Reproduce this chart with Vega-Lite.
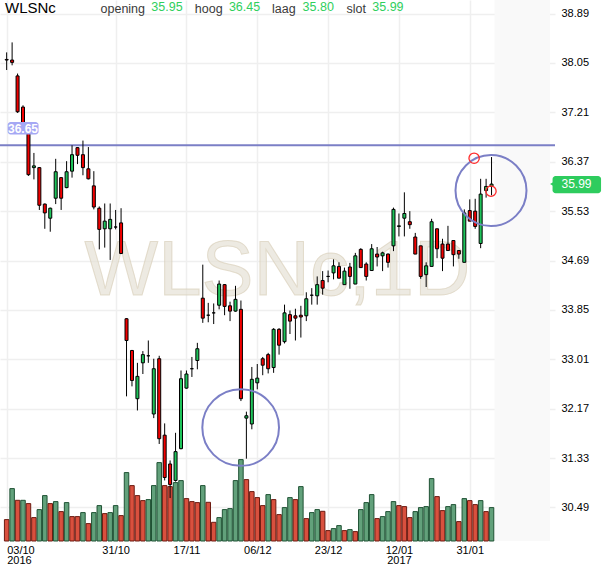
{
"$schema":"https://vega.github.io/schema/vega-lite/v6.json",
"width":555,"height":541,
"autosize":{"type":"none"},
"padding":{"left":0,"top":0,"right":55,"bottom":27},
"background":"#ffffff",
"config":{"font":"Liberation Sans","view":{"stroke":null},
"axis":{"labelFont":"Liberation Sans","labelFontSize":11,"labelColor":"#000000","gridColor":"#efefef","gridWidth":1.5,"domain":false,"ticks":false,"title":null}},
"datasets":{"one":[{}],"k":[
{"i":0,"o":38.11,"h":38.23,"l":37.93,"c":38.10,"v":21.4,"vd":"d"},
{"i":1,"o":38.10,"h":38.40,"l":38.01,"c":38.06,"v":52.4,"vd":"u"},
{"i":2,"o":37.83,"h":37.87,"l":37.20,"c":37.22,"v":40.7,"vd":"d"},
{"i":3,"o":37.30,"h":37.33,"l":36.93,"c":36.95,"v":40.7,"vd":"u"},
{"i":4,"o":36.95,"h":37.00,"l":36.13,"c":36.15,"v":37.4,"vd":"d"},
{"i":5,"o":36.27,"h":36.52,"l":36.07,"c":36.30,"v":23.4,"vd":"d"},
{"i":6,"o":36.27,"h":36.28,"l":35.55,"c":35.63,"v":31.4,"vd":"u"},
{"i":7,"o":35.65,"h":35.66,"l":35.23,"c":35.50,"v":45.4,"vd":"u"},
{"i":8,"o":35.41,"h":35.59,"l":35.18,"c":35.58,"v":37.4,"vd":"d"},
{"i":9,"o":35.75,"h":36.42,"l":35.65,"c":36.20,"v":39.4,"vd":"u"},
{"i":10,"o":36.10,"h":36.11,"l":35.55,"c":35.75,"v":29.4,"vd":"d"},
{"i":11,"o":35.93,"h":36.38,"l":35.92,"c":36.20,"v":38.4,"vd":"u"},
{"i":12,"o":36.21,"h":36.65,"l":36.10,"c":36.49,"v":24.4,"vd":"d"},
{"i":13,"o":36.61,"h":36.62,"l":36.33,"c":36.48,"v":24.4,"vd":"d"},
{"i":14,"o":36.49,"h":36.73,"l":36.14,"c":36.27,"v":28.4,"vd":"u"},
{"i":15,"o":36.25,"h":36.62,"l":36.07,"c":36.08,"v":17.4,"vd":"d"},
{"i":16,"o":35.96,"h":36.21,"l":35.56,"c":35.60,"v":28.4,"vd":"u"},
{"i":17,"o":35.58,"h":35.61,"l":34.88,"c":35.22,"v":35.4,"vd":"u"},
{"i":18,"o":35.23,"h":35.66,"l":34.91,"c":35.36,"v":27.4,"vd":"d"},
{"i":19,"o":35.23,"h":35.66,"l":34.70,"c":35.39,"v":28.4,"vd":"u"},
{"i":20,"o":35.26,"h":35.55,"l":35.22,"c":35.26,"v":35.4,"vd":"u"},
{"i":21,"o":35.33,"h":35.58,"l":34.80,"c":34.81,"v":25.4,"vd":"d"},
{"i":22,"o":33.70,"h":33.71,"l":32.38,"c":33.33,"v":68.4,"vd":"u"},
{"i":23,"o":33.16,"h":33.17,"l":32.55,"c":32.65,"v":55.4,"vd":"d"},
{"i":24,"o":32.34,"h":32.95,"l":32.14,"c":32.72,"v":45.4,"vd":"d"},
{"i":25,"o":32.95,"h":33.15,"l":32.76,"c":33.09,"v":40.4,"vd":"d"},
{"i":26,"o":33.07,"h":33.33,"l":32.95,"c":33.07,"v":41.4,"vd":"u"},
{"i":27,"o":32.08,"h":33.02,"l":32.01,"c":32.85,"v":55.4,"vd":"u"},
{"i":28,"o":33.02,"h":33.07,"l":31.57,"c":31.66,"v":78.4,"vd":"u"},
{"i":29,"o":31.72,"h":31.92,"l":30.95,"c":31.00,"v":55.4,"vd":"d"},
{"i":30,"o":31.23,"h":31.29,"l":30.65,"c":30.88,"v":54.4,"vd":"d"},
{"i":31,"o":30.95,"h":31.76,"l":30.93,"c":31.44,"v":58.4,"vd":"u"},
{"i":32,"o":31.49,"h":32.82,"l":31.48,"c":32.68,"v":60.4,"vd":"u"},
{"i":33,"o":32.52,"h":32.82,"l":32.51,"c":32.76,"v":42.4,"vd":"d"},
{"i":34,"o":32.85,"h":33.05,"l":32.71,"c":32.85,"v":39.4,"vd":"d"},
{"i":35,"o":32.99,"h":33.29,"l":32.84,"c":33.19,"v":38.4,"vd":"d"},
{"i":36,"o":34.05,"h":34.62,"l":33.63,"c":33.71,"v":55.4,"vd":"u"},
{"i":37,"o":33.76,"h":33.97,"l":33.64,"c":33.76,"v":38.7,"vd":"d"},
{"i":38,"o":33.80,"h":33.96,"l":33.61,"c":33.80,"v":18.7,"vd":"d"},
{"i":39,"o":33.93,"h":34.35,"l":33.86,"c":34.29,"v":23.4,"vd":"u"},
{"i":40,"o":34.28,"h":34.29,"l":33.76,"c":33.91,"v":31.4,"vd":"u"},
{"i":41,"o":33.92,"h":33.99,"l":33.66,"c":33.83,"v":32.4,"vd":"u"},
{"i":42,"o":33.83,"h":34.26,"l":33.82,"c":34.03,"v":60.4,"vd":"u"},
{"i":43,"o":33.86,"h":34.01,"l":32.30,"c":32.34,"v":81.4,"vd":"u"},
{"i":44,"o":32.01,"h":32.12,"l":31.32,"c":32.05,"v":61.4,"vd":"d"},
{"i":45,"o":31.91,"h":32.88,"l":31.82,"c":32.67,"v":49.4,"vd":"d"},
{"i":46,"o":32.61,"h":32.93,"l":32.50,"c":32.69,"v":43.4,"vd":"d"},
{"i":47,"o":33.02,"h":33.05,"l":32.74,"c":32.91,"v":35.4,"vd":"d"},
{"i":48,"o":33.09,"h":33.12,"l":32.77,"c":32.85,"v":46.4,"vd":"u"},
{"i":49,"o":32.87,"h":33.54,"l":32.78,"c":33.52,"v":41.4,"vd":"d"},
{"i":50,"o":33.52,"h":33.54,"l":33.09,"c":33.25,"v":26.4,"vd":"d"},
{"i":51,"o":33.31,"h":33.94,"l":33.28,"c":33.80,"v":33.4,"vd":"u"},
{"i":52,"o":33.77,"h":33.84,"l":33.44,"c":33.66,"v":43.4,"vd":"u"},
{"i":53,"o":33.75,"h":33.87,"l":33.33,"c":33.71,"v":41.4,"vd":"d"},
{"i":54,"o":33.76,"h":33.92,"l":33.38,"c":33.73,"v":54.4,"vd":"u"},
{"i":55,"o":33.75,"h":34.15,"l":33.66,"c":34.04,"v":22.4,"vd":"d"},
{"i":56,"o":34.10,"h":34.22,"l":33.94,"c":34.10,"v":28.4,"vd":"u"},
{"i":57,"o":34.09,"h":34.42,"l":33.94,"c":34.28,"v":31.4,"vd":"u"},
{"i":58,"o":34.35,"h":34.51,"l":34.11,"c":34.22,"v":29.7,"vd":"d"},
{"i":59,"o":34.42,"h":34.52,"l":34.32,"c":34.42,"v":10.4,"vd":"d"},
{"i":60,"o":34.48,"h":34.71,"l":34.37,"c":34.60,"v":12.4,"vd":"u"},
{"i":61,"o":34.59,"h":34.66,"l":34.39,"c":34.39,"v":15.4,"vd":"u"},
{"i":62,"o":34.28,"h":34.57,"l":34.28,"c":34.51,"v":10.4,"vd":"d"},
{"i":63,"o":34.58,"h":34.65,"l":34.21,"c":34.42,"v":11.4,"vd":"u"},
{"i":64,"o":34.29,"h":34.82,"l":34.29,"c":34.77,"v":9.4,"vd":"d"},
{"i":65,"o":34.88,"h":34.90,"l":34.57,"c":34.57,"v":31.4,"vd":"u"},
{"i":66,"o":34.63,"h":34.66,"l":34.35,"c":34.42,"v":38.4,"vd":"u"},
{"i":67,"o":34.52,"h":34.97,"l":34.52,"c":34.89,"v":46.4,"vd":"u"},
{"i":68,"o":34.80,"h":34.92,"l":34.59,"c":34.75,"v":22.4,"vd":"d"},
{"i":69,"o":34.77,"h":34.84,"l":34.51,"c":34.82,"v":24.4,"vd":"u"},
{"i":70,"o":34.80,"h":34.81,"l":34.57,"c":34.66,"v":29.4,"vd":"u"},
{"i":71,"o":34.94,"h":35.59,"l":34.85,"c":35.56,"v":39.4,"vd":"u"},
{"i":72,"o":35.27,"h":35.49,"l":35.10,"c":35.28,"v":35.4,"vd":"d"},
{"i":73,"o":35.41,"h":35.85,"l":35.10,"c":35.49,"v":34.4,"vd":"d"},
{"i":74,"o":35.35,"h":35.53,"l":35.23,"c":35.30,"v":23.4,"vd":"d"},
{"i":75,"o":35.09,"h":35.16,"l":34.80,"c":34.80,"v":29.4,"vd":"u"},
{"i":76,"o":34.94,"h":34.94,"l":34.38,"c":34.42,"v":33.4,"vd":"u"},
{"i":77,"o":34.45,"h":34.66,"l":34.24,"c":34.60,"v":34.4,"vd":"u"},
{"i":78,"o":34.59,"h":35.40,"l":34.59,"c":35.35,"v":62.4,"vd":"u"},
{"i":79,"o":35.23,"h":35.23,"l":34.73,"c":34.89,"v":44.4,"vd":"d"},
{"i":80,"o":34.97,"h":35.06,"l":34.51,"c":34.73,"v":30.4,"vd":"d"},
{"i":81,"o":34.97,"h":35.28,"l":34.86,"c":34.86,"v":34.4,"vd":"u"},
{"i":82,"o":35.03,"h":35.03,"l":34.59,"c":34.79,"v":36.4,"vd":"u"},
{"i":83,"o":34.86,"h":34.86,"l":34.72,"c":34.80,"v":19.4,"vd":"d"},
{"i":84,"o":34.66,"h":35.56,"l":34.66,"c":35.50,"v":42.4,"vd":"u"},
{"i":85,"o":35.54,"h":35.73,"l":35.36,"c":35.36,"v":40.4,"vd":"d"},
{"i":86,"o":35.53,"h":35.74,"l":35.23,"c":35.27,"v":36.4,"vd":"d"},
{"i":87,"o":34.98,"h":36.08,"l":34.90,"c":35.82,"v":40.4,"vd":"u"},
{"i":88,"o":35.88,"h":36.08,"l":35.76,"c":35.95,"v":29.4,"vd":"d"},
{"i":89,"o":35.95,"h":36.45,"l":35.80,"c":35.99,"v":33.4,"vd":"u"}
]},
"layer":[
{"layer":[
{"data":{"name":"one"},"mark":{"type":"rect","fill":"#f9f9f9"},
 "encoding":{"x":{"datum":89.55,"type":"quantitative"},"x2":{"datum":99.73},
 "y":{"datum":29.92,"type":"quantitative","scale":{"domain":[29.92,39.121],"nice":false,"zero":false},"axis":null},"y2":{"datum":39.121}}},
{"data":{"name":"one"},"mark":{"type":"text","text":"WLSNc,1D","fontSize":78,"align":"center","baseline":"alphabetic","fill":"#e4dfd2","fillOpacity":0.65,"stroke":"#d6ccb4","strokeOpacity":0.6,"strokeWidth":1},
 "encoding":{"x":{"datum":49.7,"type":"quantitative"},"y":{"datum":34.10,"type":"quantitative","axis":null}}}
]},
{"data":{"name":"k"},
 "mark":{"type":"bar","orient":"vertical","size":4.5,"strokeWidth":1},
 "encoding":{"x":{"field":"i","type":"quantitative"},
 "y":{"field":"v","type":"quantitative","scale":{"domain":[0,541],"nice":false,"zero":true},"axis":null},
 "fill":{"condition":{"test":"datum.vd=='u'","value":"#62a17b"},"value":"#d9503e"},
 "stroke":{"condition":{"test":"datum.vd=='u'","value":"#1f5234"},"value":"#6c1b11"}}},
{"layer":[
{"data":{"name":"one"},"mark":{"type":"rule","color":"#7b7fc6","strokeWidth":2},"encoding":{"y":{"datum":36.65,"type":"quantitative"}}},
{"data":{"name":"k"},"mark":{"type":"rule","color":"#000000","strokeWidth":1},
 "encoding":{"x":{"field":"i","type":"quantitative","scale":{"domain":[-0.306,99.73],"nice":false,"zero":false},
   "axis":{"orient":"bottom","values":[0,20,33,46,59,72,85],"grid":true,"labelPadding":3,"labelFlush":false,"labelLineHeight":10.5,
   "labelAlign":{"condition":{"test":"datum.value == 0","value":"left"},"value":"center"},
   "labelExpr":"datum.value==0?['03/10','2016']:datum.value==20?'31/10':datum.value==33?'17/11':datum.value==46?'06/12':datum.value==59?'23/12':datum.value==72?['12/01','2017']:'31/01'"}},
 "y":{"field":"l","type":"quantitative","scale":{"domain":[29.92,39.121],"nice":false,"zero":false},
   "axis":{"orient":"right","values":[30.49,31.33,32.17,33.01,33.85,34.69,35.53,36.37,37.21,38.05,38.89],"format":".2f","grid":true,"labelPadding":6}},
 "y2":{"field":"h"}}},
{"data":{"name":"k"},"mark":{"type":"bar","orient":"vertical","size":3,"stroke":"#000000","strokeWidth":1},
 "encoding":{"x":{"field":"i","type":"quantitative"},"y":{"field":"o","type":"quantitative"},"y2":{"field":"c"},
 "fill":{"condition":{"test":"datum.c>=datum.o","value":"#1ec45a"},"value":"#f20000"}}},
{"data":{"name":"one"},"mark":{"type":"point","shape":"circle","size":5883,"filled":false,"opacity":1,"stroke":"#7b7fc6","strokeWidth":2},
 "encoding":{"x":{"datum":42.95,"type":"quantitative"},"y":{"datum":31.85,"type":"quantitative"}}},
{"data":{"name":"one"},"mark":{"type":"point","shape":"circle","size":5041,"filled":false,"opacity":1,"stroke":"#7b7fc6","strokeWidth":2},
 "encoding":{"x":{"datum":88.9,"type":"quantitative"},"y":{"datum":35.88,"type":"quantitative"}}},
{"data":{"name":"one"},"mark":{"type":"point","shape":"circle","size":106,"filled":false,"opacity":1,"stroke":"#ff2a2a","strokeWidth":1.3},
 "encoding":{"x":{"datum":85.8,"type":"quantitative"},"y":{"datum":36.43,"type":"quantitative"}}},
{"data":{"name":"one"},"mark":{"type":"point","shape":"circle","size":106,"filled":false,"opacity":1,"stroke":"#ff2a2a","strokeWidth":1.3},
 "encoding":{"x":{"datum":88.9,"type":"quantitative"},"y":{"datum":35.87,"type":"quantitative"}}},
{"data":{"name":"one"},"mark":{"type":"rect","fill":"#a5a8f4","cornerRadius":3},
 "encoding":{"x":{"datum":0.18,"type":"quantitative"},"x2":{"datum":5.85},"y":{"datum":37.045,"type":"quantitative"},"y2":{"datum":36.835}}},
{"data":{"name":"one"},"mark":{"type":"text","text":"36.65","fontSize":12,"fontWeight":"bold","color":"#ffffff","align":"center","baseline":"middle"},
 "encoding":{"x":{"datum":3.0,"type":"quantitative"},"y":{"datum":36.935,"type":"quantitative"}}},
{"data":{"name":"one"},"mark":{"type":"point","shape":"triangle-left","size":70,"filled":true,"opacity":1,"color":"#2ecc5e"},
 "encoding":{"x":{"datum":100.4,"type":"quantitative"},"y":{"datum":35.99,"type":"quantitative"}}},
{"data":{"name":"one"},"mark":{"type":"rect","fill":"#2ecc5e","cornerRadius":3,"clip":false},
 "encoding":{"x":{"datum":100.2,"type":"quantitative"},"x2":{"datum":109.1},"y":{"datum":36.128,"type":"quantitative"},"y2":{"datum":35.834}}},
{"data":{"name":"one"},"mark":{"type":"text","text":"35.99","fontSize":12,"color":"#ffffff","align":"center","baseline":"middle"},
 "encoding":{"x":{"datum":104.6,"type":"quantitative"},"y":{"datum":35.985,"type":"quantitative"}}},
{"data":{"name":"one"},"mark":{"type":"text","text":"WLSNc","fontSize":15,"color":"#000000","align":"left","baseline":"alphabetic"},
 "encoding":{"x":{"datum":-0.306,"type":"quantitative"},"y":{"datum":38.905,"type":"quantitative"}}},
{"data":{"name":"one"},"mark":{"type":"text","text":"opening","fontSize":12.5,"color":"#3a3a3a","align":"left","baseline":"alphabetic"},
 "encoding":{"x":{"datum":17.23,"type":"quantitative"},"y":{"datum":38.905,"type":"quantitative"}}},
{"data":{"name":"one"},"mark":{"type":"text","text":"35.95","fontSize":12.5,"color":"#2fcf5d","align":"left","baseline":"alphabetic"},
 "encoding":{"x":{"datum":26.55,"type":"quantitative"},"y":{"datum":38.94,"type":"quantitative"}}},
{"data":{"name":"one"},"mark":{"type":"text","text":"hoog","fontSize":12.5,"color":"#3a3a3a","align":"left","baseline":"alphabetic"},
 "encoding":{"x":{"datum":34.54,"type":"quantitative"},"y":{"datum":38.905,"type":"quantitative"}}},
{"data":{"name":"one"},"mark":{"type":"text","text":"36.45","fontSize":12.5,"color":"#2fcf5d","align":"left","baseline":"alphabetic"},
 "encoding":{"x":{"datum":40.79,"type":"quantitative"},"y":{"datum":38.94,"type":"quantitative"}}},
{"data":{"name":"one"},"mark":{"type":"text","text":"laag","fontSize":12.5,"color":"#3a3a3a","align":"left","baseline":"alphabetic"},
 "encoding":{"x":{"datum":48.72,"type":"quantitative"},"y":{"datum":38.905,"type":"quantitative"}}},
{"data":{"name":"one"},"mark":{"type":"text","text":"35.80","fontSize":12.5,"color":"#2fcf5d","align":"left","baseline":"alphabetic"},
 "encoding":{"x":{"datum":54.31,"type":"quantitative"},"y":{"datum":38.94,"type":"quantitative"}}},
{"data":{"name":"one"},"mark":{"type":"text","text":"slot","fontSize":12.5,"color":"#3a3a3a","align":"left","baseline":"alphabetic"},
 "encoding":{"x":{"datum":62.37,"type":"quantitative"},"y":{"datum":38.905,"type":"quantitative"}}},
{"data":{"name":"one"},"mark":{"type":"text","text":"35.99","fontSize":12.5,"color":"#2fcf5d","align":"left","baseline":"alphabetic"},
 "encoding":{"x":{"datum":67.11,"type":"quantitative"},"y":{"datum":38.94,"type":"quantitative"}}}
]}
],
"resolve":{"scale":{"y":"independent"}}
}
